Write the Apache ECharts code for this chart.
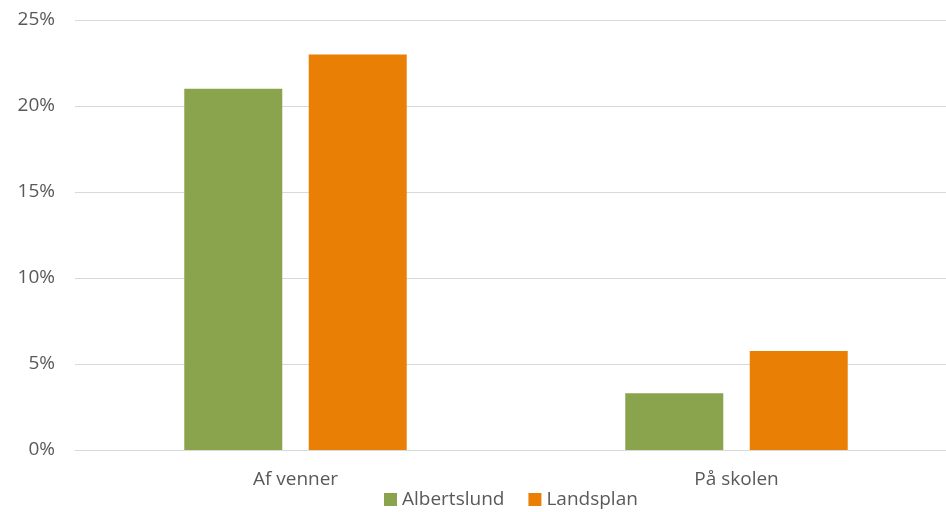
<!DOCTYPE html>
<html><head><meta charset="utf-8">
<script src="https://cdn.jsdelivr.net/npm/echarts@6/dist/echarts.min.js"></script>
<style>html,body{margin:0;padding:0;background:#fff;overflow:hidden;width:946px;height:512px}#c{width:957px;height:512px}</style>
</head><body><div id="c"></div>
<script>
const categories = ['Af venner', 'På skolen'];
const albertslund = [21, 3.3];
const landsplan = [23, 5.75];
const seriesNames = ['Albertslund', 'Landsplan'];

const font = 'Open Sans, Liberation Sans, sans-serif';
const chart = echarts.init(document.getElementById('c'), null, {renderer: 'canvas'});
chart.setOption({
  animation: false,
  backgroundColor: '#fff',
  grid: {left: 75, right: 0, top: 20, height: 430},
  legend: {
    top: 485, left: 379, itemWidth: 13, itemHeight: 13, itemGap: 24,
    icon: 'rect',
    textStyle: {fontFamily: font, fontSize: 19, color: '#595959'},
    data: seriesNames
  },
  xAxis: {
    type: 'category', data: categories,
    axisLine: {lineStyle: {color: '#d9d9d9'}},
    axisTick: {show: false},
    axisLabel: {fontFamily: font, fontSize: 19, color: '#595959', margin: 20}
  },
  yAxis: {
    type: 'value', min: 0, max: 25, interval: 5,
    axisLine: {show: false}, axisTick: {show: false},
    splitLine: {lineStyle: {color: '#d9d9d9'}},
    axisLabel: {fontFamily: font, fontSize: 19, color: '#595959', margin: 20, formatter: v => v + '%'}
  },
  series: [
    {name: seriesNames[0], type: 'bar', data: albertslund, barWidth: 98, barGap: '27%', itemStyle: {color: '#8aa34d'}},
    {name: seriesNames[1], type: 'bar', data: landsplan, barWidth: 98, itemStyle: {color: '#ea7f06'}}
  ]
});
</script></body></html>
